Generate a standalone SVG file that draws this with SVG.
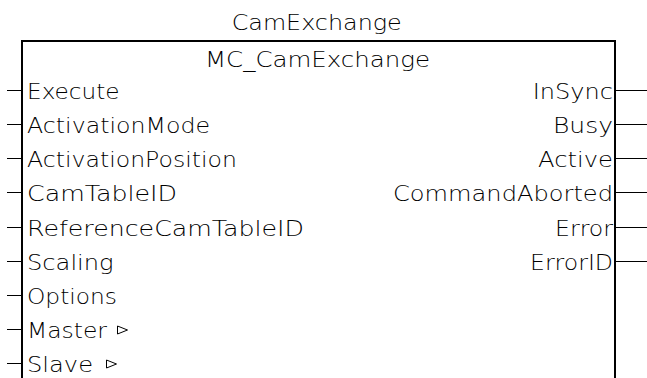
<svg xmlns="http://www.w3.org/2000/svg" width="647" height="378" viewBox="0 0 647 378">
<style>
text{font-family:"DejaVu Sans","Liberation Sans",Arial,sans-serif;font-size:22px;font-weight:200;fill:#000}
.r{text-anchor:end}
.c{text-anchor:middle}
.box{fill:#fff;stroke:#000;stroke-width:2}
.pin{stroke:#000;stroke-width:1.2;fill:none}
.io{fill:#fff;stroke:#000;stroke-width:1}
</style>
<rect width="647" height="378" fill="#fff"/>
<g id="title">
<text class="c" x="316.7" y="29.5" textLength="170" lengthAdjust="spacingAndGlyphs">CamExchange</text>
</g>
<g id="block">
<path class="box" d="M22,380 V41 H615 V380"/>
<text class="c" x="317.5" y="67" textLength="225" lengthAdjust="spacingAndGlyphs">MC_CamExchange</text>
</g>
<g id="connectors">
<path class="pin" d="M7,90.5H22M7,124.5H22M7,158.5H22M7,192.5H22M7,227.5H22M7,261.5H22M7,295.5H22M7,329.5H22M7,363.5H22"/>
<path class="pin" d="M615,90.5H647M615,124.5H647M615,158.5H647M615,192.5H647M615,227.5H647M615,261.5H647"/>
</g>
<g id="inputs">
<g id="in-execute"><text x="27" y="98.5" textLength="92.6" lengthAdjust="spacingAndGlyphs">Execute</text></g>
<g id="in-activationmode"><text x="27" y="132.5" textLength="183" lengthAdjust="spacingAndGlyphs">ActivationMode</text></g>
<g id="in-activationposition"><text x="27" y="166.5" textLength="210" lengthAdjust="spacingAndGlyphs">ActivationPosition</text></g>
<g id="in-camtableid"><text x="27" y="200.5" textLength="150" lengthAdjust="spacingAndGlyphs">CamTableID</text></g>
<g id="in-referencecamtableid"><text x="27" y="235.5" textLength="277" lengthAdjust="spacingAndGlyphs">ReferenceCamTableID</text></g>
<g id="in-scaling"><text x="27" y="269.5" textLength="86.6" lengthAdjust="spacingAndGlyphs">Scaling</text></g>
<g id="in-options"><text x="27" y="303.5" textLength="90" lengthAdjust="spacingAndGlyphs">Options</text></g>
<g id="in-master"><text x="27" y="337.5" textLength="80" lengthAdjust="spacingAndGlyphs">Master</text><polygon class="io" points="117.5,326 127.5,330 117.5,334"/></g>
<g id="in-slave"><text x="27" y="371.5" textLength="66" lengthAdjust="spacingAndGlyphs">Slave</text><polygon class="io" points="106.5,360 116.5,364 106.5,368"/></g>
</g>
<g id="outputs">
<g id="out-insync"><text class="r" x="613" y="98.5" textLength="80.3" lengthAdjust="spacingAndGlyphs">InSync</text></g>
<g id="out-busy"><text class="r" x="613" y="132.5" textLength="60" lengthAdjust="spacingAndGlyphs">Busy</text></g>
<g id="out-active"><text class="r" x="613" y="166.5" textLength="75" lengthAdjust="spacingAndGlyphs">Active</text></g>
<g id="out-commandaborted"><text class="r" x="613" y="200.5" textLength="220" lengthAdjust="spacingAndGlyphs">CommandAborted</text></g>
<g id="out-error"><text class="r" x="613" y="235.5" textLength="58" lengthAdjust="spacingAndGlyphs">Error</text></g>
<g id="out-errorid"><text class="r" x="613" y="269.5" textLength="83" lengthAdjust="spacingAndGlyphs">ErrorID</text></g>
</g>
</svg>
